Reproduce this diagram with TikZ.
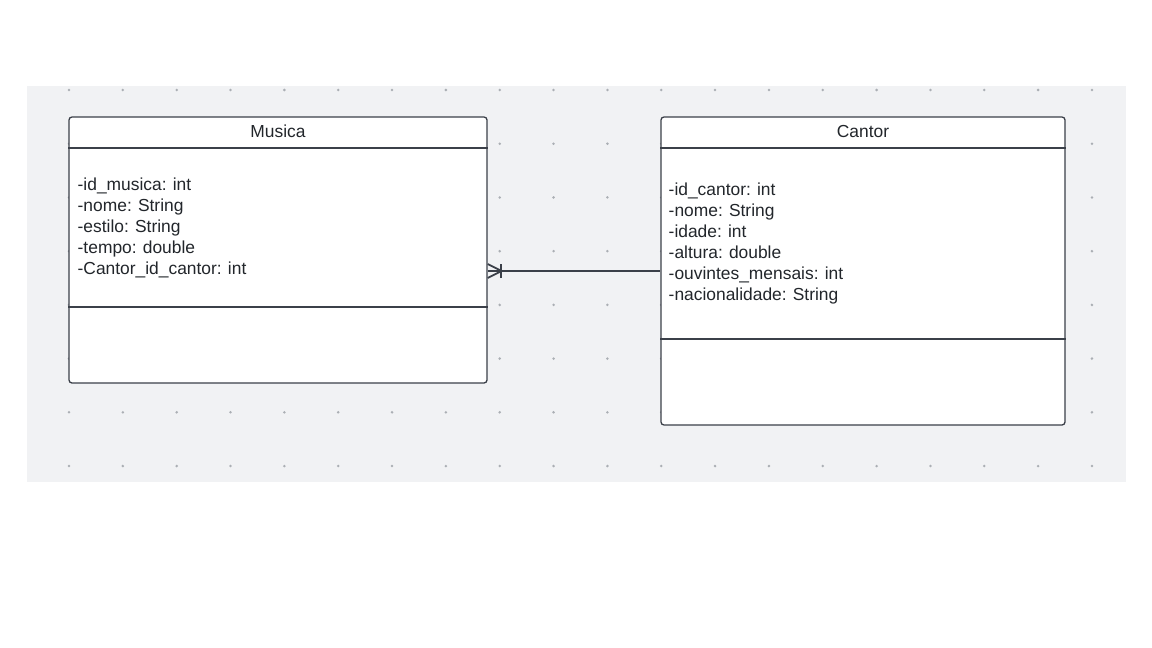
\documentclass[tikz,border=0pt]{standalone}
\usepackage{fontspec}
\setmainfont{Liberation Sans}[WordSpace={0.95,0,0}]
\definecolor{bgc}{HTML}{F1F2F4}
\definecolor{dotc}{HTML}{ABAFB4}
\definecolor{linec}{HTML}{3B4049}
\definecolor{txtc}{HTML}{22262B}
\tikzset{
  umlbox/.style={draw=linec, fill=white, line width=1.3pt, rounded corners=3pt, inner sep=0pt},
  divider/.style={draw=linec, line width=1.3pt},
  conn/.style={draw=linec, line width=1.8pt},
  attr/.style={inner sep=0pt, anchor=base west, text=txtc, font=\fontsize{17.4}{21}\selectfont},
  title/.style={inner sep=0pt, anchor=base, text=txtc, font=\fontsize{17.4}{21}\selectfont},
}
\begin{document}
\begin{tikzpicture}[x=1pt,y=-1pt]
\useasboundingbox (0,0) rectangle (1152,648);
\fill[bgc] (27,86) rectangle (1126,482);
\foreach \i in {0,...,19}{
  \foreach \j in {0,...,7}{
    \fill[dotc] (69+53.84*\i, 90+53.72*\j) circle (1.4);
  }
}
\node[umlbox, minimum width=418pt, minimum height=266pt] (musica) at (278,250) {};
\node[umlbox, minimum width=404pt, minimum height=308pt] (cantor) at (863,271) {};
\draw[divider] (musica.west |- 0,148) -- (musica.east |- 0,148);
\draw[divider] (musica.west |- 0,307) -- (musica.east |- 0,307);
\draw[divider] (cantor.west |- 0,148) -- (cantor.east |- 0,148);
\draw[divider] (cantor.west |- 0,339) -- (cantor.east |- 0,339);
\node[title] (mt) at (278,137) {Musica};
\node[title] (ct) at (863,137) {Cantor};
\foreach \t [count=\i] in {-id\_musica: int,-nome: String,-estilo: String,-tempo: double,-Cantor\_id\_cantor: int}{
  \node[attr] (ma\i) at (77.5,{190+21*(\i-1)}) {\t};
}
\foreach \t [count=\i] in {-id\_cantor: int,-nome: String,-idade: int,-altura: double,-ouvintes\_mensais: int,-nacionalidade: String}{
  \node[attr] (ca\i) at (668.5,{195+21*(\i-1)}) {\t};
}
\coordinate (m) at (musica.east |- cantor.west);
\draw[conn] (m) -- (cantor.west);
\draw[conn] ([yshift=-7pt]m) -- ([xshift=14pt]m) -- ([yshift=7pt]m);
\draw[conn] ([xshift=13pt,yshift=-7pt]m) -- ([xshift=13pt,yshift=7pt]m);
\end{tikzpicture}
\end{document}
